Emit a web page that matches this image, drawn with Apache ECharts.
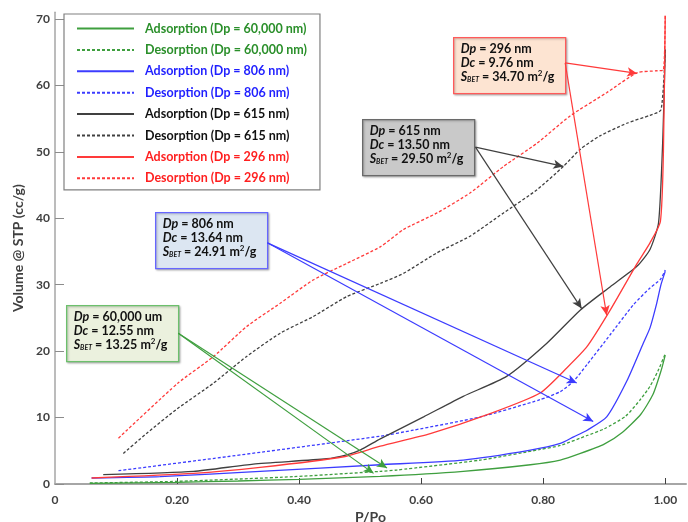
<!DOCTYPE html>
<html><head><meta charset="utf-8">
<script src="https://cdn.jsdelivr.net/npm/echarts@6/dist/echarts.min.js"></script>
<style>html,body{margin:0;padding:0;background:#fff}#c{width:688px;height:522px}</style>
</head><body><div id="c"></div>
<script>
// ---- data (P/Po, Volume cc/g) ----
const seriesNames = [
  'Adsorption (Dp = 60,000 nm)', 'Desorption (Dp = 60,000 nm)',
  'Adsorption (Dp = 806 nm)', 'Desorption (Dp = 806 nm)',
  'Adsorption (Dp = 615 nm)', 'Desorption (Dp = 615 nm)',
  'Adsorption (Dp = 296 nm)', 'Desorption (Dp = 296 nm)'
];
const ads60000 = [[0.057,0.1],[0.2,0.25],[0.3,0.45],[0.4,0.7],[0.533,1.15],[0.669,1.9],[0.779,2.9],[0.828,3.6],[0.861,4.6],[0.9,6.0],[0.93,7.8],[0.96,10.5],[0.98,13.5],[0.993,17.0],[1.0,19.4]];
const des60000 = [[0.057,0.15],[0.2,0.4],[0.39,1.1],[0.533,1.9],[0.56,2.1],[0.697,3.6],[0.795,5.2],[0.828,5.8],[0.872,7.3],[0.9,8.3],[0.935,10.2],[0.96,12.8],[0.975,14.7],[0.988,17.0],[1.0,19.6]];
const ads806 = [[0.06,0.9],[0.172,1.1],[0.336,1.9],[0.533,2.9],[0.669,3.6],[0.779,5.1],[0.828,6.1],[0.85,7.1],[0.872,8.1],[0.904,10.1],[0.937,15.5],[0.964,21.2],[0.975,23.5],[0.986,27.2],[0.993,30.0],[1.0,32.0]];
const des806 = [[0.104,2.0],[0.281,4.1],[0.533,7.2],[0.587,8.1],[0.697,10.1],[0.795,12.7],[0.828,13.9],[0.85,15.5],[0.872,18.0],[0.91,22.5],[0.948,27.0],[0.975,29.5],[0.992,30.8],[1.0,32.2]];
const ads615 = [[0.079,1.4],[0.227,1.9],[0.325,3.0],[0.445,3.8],[0.478,4.4],[0.5,5.1],[0.533,6.8],[0.604,10.1],[0.669,13.2],[0.74,16.2],[0.806,21.2],[0.861,26.2],[0.91,29.7],[0.954,32.8],[0.975,35.3],[0.989,39.3],[0.996,52.0],[1.0,65.4]];
const des615 = [[0.112,4.6],[0.15,7.6],[0.2,11.3],[0.26,15.2],[0.314,19.2],[0.369,22.7],[0.423,25.2],[0.478,28.2],[0.533,30.2],[0.571,31.7],[0.626,34.8],[0.68,37.3],[0.735,40.8],[0.79,44.3],[0.833,47.8],[0.861,50.4],[0.893,52.4],[0.937,54.3],[0.975,55.5],[0.993,56.3],[1.0,65.4]];
const ads296 = [[0.06,0.9],[0.227,1.6],[0.336,2.5],[0.473,4.1],[0.533,5.7],[0.615,7.6],[0.713,10.6],[0.795,13.7],[0.839,17.5],[0.872,20.7],[0.91,26.2],[0.954,33.2],[0.975,36.3],[0.992,39.5],[0.997,50.0],[1.0,70.5]];
const des296 = [[0.104,6.9],[0.2016,15.2],[0.26,19.2],[0.314,23.7],[0.369,27.2],[0.423,30.7],[0.478,33.2],[0.533,35.7],[0.571,38.3],[0.626,40.8],[0.68,43.8],[0.735,47.8],[0.79,51.3],[0.844,55.4],[0.904,58.9],[0.954,61.9],[0.987,62.2],[0.997,62.3],[1.0,70.6]];
const xTicks = [0, 0.2, 0.4, 0.6, 0.8, 1.0];
const yTicks = [0, 10, 20, 30, 40, 50, 60, 70];

// annotation arrows: [start, tip1, tip2] in data coordinates
const arrows60000 = [[0.202,22.7],[0.522,1.6],[0.544,2.4]];
const arrows806 = [[0.348,36.3],[0.855,15.2],[0.882,9.4]];
const arrows615 = [[0.689,50.7],[0.833,47.8],[0.863,26.4]];
const arrows296 = [[0.836,63.4],[0.954,61.8],[0.904,25.4]];
const notes60000 = ['{i|Dp} = 60,000 um', '{i|Dc} = 12.55 nm', '{i|S}{b|BET} = 13.25 m{p|2}/g'];
const notes806 = ['{i|Dp} = 806 nm', '{i|Dc} = 13.64 nm', '{i|S}{b|BET} = 24.91 m{p|2}/g'];
const notes615 = ['{i|Dp} = 615 nm', '{i|Dc} = 13.50 nm', '{i|S}{b|BET} = 29.50 m{p|2}/g'];
const notes296 = ['{i|Dp} = 296 nm', '{i|Dc} = 9.76 nm', '{i|S}{b|BET} = 34.70 m{p|2}/g'];

// ---- styling ----
const FONT = 'Lato';
const lineColors = ['#3f9f3f','#3f9f3f','#3c3cff','#3c3cff','#404040','#404040','#ff3a3a','#ff3a3a'];
const textColors = ['#2a8f2a','#2a8f2a','#1f1fff','#1f1fff','#111111','#111111','#ff1f1f','#ff1f1f'];
const seriesData = [ads60000, des60000, ads806, des806, ads615, des615, ads296, des296];

function arrowLines(a, color) {
  const tip = {symbol: 'arrow', symbolSize: [7, 10]};
  return {
    silent: true, symbol: ['none', 'arrow'], symbolSize: [7, 10], animation: false,
    label: {show: false},
    lineStyle: {color: color, width: 1.2, type: 'solid', opacity: 1},
    itemStyle: {color: color},
    emphasis: {disabled: true},
    data: [
      [{coord: a[0], symbol: 'none'}, Object.assign({coord: a[1]}, tip)],
      [{coord: a[0], symbol: 'none'}, Object.assign({coord: a[2]}, tip)]
    ]
  };
}
const arrowSets = {1: arrowLines(arrows60000, '#3f9f3f'), 3: arrowLines(arrows806, '#3c3cff'),
                   5: arrowLines(arrows615, '#404040'), 7: arrowLines(arrows296, '#ff3a3a')};

const series = seriesData.map((d, i) => {
  const s = {
    name: seriesNames[i], type: 'line', data: d, symbol: 'none', showSymbol: false,
    smooth: 0.2, animation: false, z: 3,
    lineStyle: {color: lineColors[i], width: 1.3, type: i % 2 ? [3, 2] : 'solid'},
    itemStyle: {color: lineColors[i]}
  };
  if (arrowSets[i]) s.markLine = arrowSets[i];
  return s;
});

function box(left, top, fill, stroke, lines) {
  return {
    type: 'group', left: left, top: top, z: 100,
    children: [
      {type: 'rect', shape: {x: 0, y: 0, width: 112, height: 56},
       style: {fill: fill, stroke: stroke, lineWidth: 1.3, shadowBlur: 2, shadowOffsetX: 1, shadowOffsetY: 1, shadowColor: 'rgba(0,0,0,0.25)'}},
      {type: 'text', x: 7, y: 4,
       style: {text: lines.join('\n'), fontFamily: FONT, fontWeight: 'bold', fontSize: 12.5, lineHeight: 14, fill: '#111',
         rich: {
           i: {fontStyle: 'italic', fontWeight: 'bold', fontFamily: FONT, fontSize: 12.5, lineHeight: 14, fill: '#111'},
           b: {fontStyle: 'italic', fontWeight: 'bold', fontFamily: FONT, fontSize: 7, lineHeight: 8, verticalAlign: 'bottom', fill: '#111'},
           p: {fontWeight: 'bold', fontFamily: FONT, fontSize: 8, lineHeight: 9, verticalAlign: 'top', fill: '#111'}
         }}}
    ]
  };
}

const chart = echarts.init(document.getElementById('c'), null, {renderer: 'canvas'});
chart.setOption({
  backgroundColor: '#fff',
  animation: false,
  textStyle: {fontFamily: FONT},
  grid: {left: 55, top: 12.3, width: 631, height: 471.7, containLabel: false, outerBoundsMode: 'none'},
  legend: {
    orient: 'vertical', left: 64, top: 14,
    padding: [8, 13, 5, 12], itemGap: 8.4, itemWidth: 57, itemHeight: 14,
    borderColor: '#808080', borderWidth: 1.2, backgroundColor: '#fff',
    itemStyle: {opacity: 0, borderWidth: 0},
    textStyle: {fontFamily: FONT, fontWeight: 'bold', fontSize: 12.5, padding: [0, 0, 0, 6]},
    data: seriesNames.map((n, i) => ({name: n, textStyle: {color: textColors[i]}})),
    selectedMode: false, z: 50
  },
  xAxis: {
    type: 'value', min: 0, max: 1.034,
    name: 'P/Po', nameLocation: 'middle', nameGap: 19,
    nameTextStyle: {fontFamily: FONT, fontWeight: 'bold', fontSize: 14, color: '#404040'},
    axisLine: {lineStyle: {color: '#a6a6a6', width: 2}},
    axisTick: {inside: true, length: 6, customValues: xTicks.slice(1), lineStyle: {color: '#404040', width: 1}},
    axisLabel: {customValues: xTicks, margin: 10, fontFamily: FONT, fontWeight: 'bold', fontSize: 12, color: '#404040',
      formatter: v => v === 0 ? '0' : v.toFixed(2)},
    splitLine: {show: false}
  },
  yAxis: {
    type: 'value', min: 0, max: 71,
    name: 'Volume @ STP (cc/g)', nameLocation: 'middle', nameGap: 29,
    nameTextStyle: {fontFamily: FONT, fontWeight: 'bold', fontSize: 14, color: '#404040'},
    axisLine: {show: true, lineStyle: {color: '#a6a6a6', width: 1.5}},
    axisTick: {show: true, inside: true, length: 9, customValues: yTicks, lineStyle: {color: '#8c8c8c', width: 1}},
    axisLabel: {customValues: yTicks, margin: 5, fontFamily: FONT, fontWeight: 'bold', fontSize: 12, color: '#404040'},
    splitLine: {show: false}
  },
  graphic: [
    box(66, 305, '#ebf1de', '#6cc06c', notes60000),
    box(155, 212, '#dce6f2', '#6666ff', notes806),
    box(362, 119, '#c9c9c9', '#6a6a6a', notes615),
    box(453, 37, '#fde4d2', '#ff5a5a', notes296)
  ],
  series: series
});
</script>
</body></html>
